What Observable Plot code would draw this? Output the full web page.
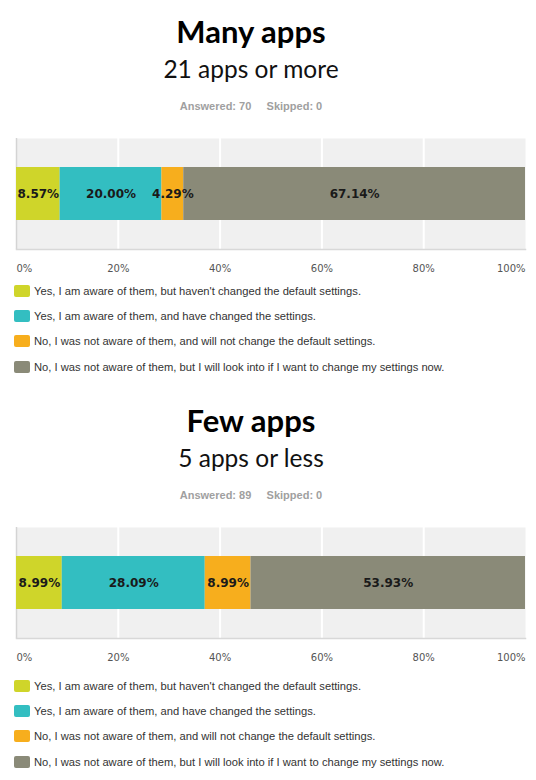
<!DOCTYPE html>
<html>
<head>
<meta charset="utf-8">
<script src="https://cdn.jsdelivr.net/npm/d3@7"></script>
<script src="https://cdn.jsdelivr.net/npm/@observablehq/plot@0.6"></script>
<style>
  body { margin: 0; background: #fff; width: 536px; height: 780px; overflow: hidden; }
  .panel { position: absolute; left: 0; width: 536px; }
  .title { position: absolute; left: 0; width: 502px; text-align: center; font-family: Lato, "Open Sans", sans-serif; font-weight: bold; font-size: 31px; line-height: 31px; color: #000; white-space: nowrap; }
  .subtitle { position: absolute; left: 0; width: 502px; text-align: center; font-family: Lato, "Open Sans", sans-serif; font-size: 24.5px; line-height: 24px; color: #111; white-space: nowrap; }
  .answered { position: absolute; left: 0; width: 502px; text-align: center; font-family: "Liberation Sans", Arial, sans-serif; font-weight: bold; font-size: 11px; line-height: 11px; color: #a0a0a0; white-space: pre; }
  .chart { position: absolute; left: 0; }
  .legend { position: absolute; left: 14px; font-family: "Liberation Sans", Arial, sans-serif; font-size: 11.2px; color: #333; }
  .legend .row { display: flex; align-items: center; height: 25.3px; }
  .legend .sw { width: 16px; height: 12px; border-radius: 2px; margin-right: 4px; }
</style>
</head>
<body>
<div id="root"></div>
<script>
const categories = [
  "Yes, I am aware of them, but haven't changed the default settings.",
  "Yes, I am aware of them, and have changed the settings.",
  "No, I was not aware of them, and will not change the default settings.",
  "No, I was not aware of them, but I will look into if I want to change my settings now."
];
const colors = ["#cfd52a", "#33bec1", "#f7ae1d", "#8a8a78"];
const panelTitles = ["Many apps", "Few apps"];
const panelSubtitles = ["21 apps or more", "5 apps or less"];
const answered = [70, 89];
const skipped = [0, 0];
const manyValues = [8.57, 20.00, 4.29, 67.14];
const fewValues = [8.99, 28.09, 8.99, 53.93];
const seriesValues = [manyValues, fewValues];
const xTicks = [0, 20, 40, 60, 80, 100];
const tickLabels = ["0%", "20%", "40%", "60%", "80%", "100%"];

const root = document.getElementById("root");
const panelTops = [0, 389];
const legendTops = [278, 284];

panelTitles.forEach((t, i) => {
  const panel = document.createElement("div");
  panel.className = "panel";
  panel.style.top = panelTops[i] + "px";
  root.appendChild(panel);

  const title = document.createElement("div");
  title.className = "title"; title.style.top = "16px"; title.textContent = t;
  panel.appendChild(title);

  const sub = document.createElement("div");
  sub.className = "subtitle"; sub.style.top = "57px"; sub.textContent = panelSubtitles[i];
  panel.appendChild(sub);

  const ans = document.createElement("div");
  ans.className = "answered"; ans.style.top = "101px";
  ans.textContent = `Answered: ${answered[i]}     Skipped: ${skipped[i]}`;
  panel.appendChild(ans);

  const data = categories.map((c, k) => ({group: t, category: c, value: seriesValues[i][k]}));
  const tickFmt = (d) => tickLabels[xTicks.indexOf(d)];
  const chart = Plot.plot({
    width: 536,
    height: 141,
    marginTop: 0,
    marginBottom: 30,
    marginLeft: 16,
    marginRight: 11,
    style: {fontFamily: "'DejaVu Sans', Verdana, sans-serif", background: "transparent", overflow: "visible"},
    x: {domain: [0, 100]},
    y: {domain: [t], padding: 0.35, axis: null},
    color: {domain: categories, range: colors},
    marks: [
      Plot.frame({fill: "#f0f0f0", stroke: null}),
      Plot.gridX(xTicks.slice(1, 5), {stroke: "#ffffff", strokeOpacity: 1, strokeWidth: 2}),
      Plot.ruleX([0], {stroke: "#d4d4d4", strokeWidth: 1.5}),
      Plot.frame({anchor: "bottom", stroke: "#d8d8d8", strokeWidth: 1.5}),
      Plot.barX(data, Plot.stackX({x: "value", y: "group", fill: "category", order: null, inset: 0})),
      Plot.text(data, Plot.stackX({x: "value", y: "group", order: null, text: d => d.value.toFixed(2) + "%", fontWeight: "bold", fontSize: 12, fill: "#1a1a1a"})),
      Plot.axisX([0], {tickSize: 0, tickPadding: 15, tickFormat: tickFmt, textAnchor: "start", fontSize: 10, fill: "#555", label: null}),
      Plot.axisX([20, 40, 60, 80], {tickSize: 0, tickPadding: 15, tickFormat: tickFmt, fontSize: 10, fill: "#555", label: null}),
      Plot.axisX([100], {tickSize: 0, tickPadding: 15, tickFormat: tickFmt, textAnchor: "end", fontSize: 10, fill: "#555", label: null})
    ]
  });
  const wrap = document.createElement("div");
  wrap.className = "chart"; wrap.style.top = "138px";
  wrap.appendChild(chart);
  panel.appendChild(wrap);

  const legend = document.createElement("div");
  legend.className = "legend"; legend.style.top = legendTops[i] + "px";
  categories.forEach((c, k) => {
    const row = document.createElement("div"); row.className = "row";
    const sw = document.createElement("div"); sw.className = "sw"; sw.style.background = colors[k];
    const lab = document.createElement("span"); lab.textContent = c;
    row.appendChild(sw); row.appendChild(lab);
    legend.appendChild(row);
  });
  panel.appendChild(legend);
});
</script>
</body>
</html>
